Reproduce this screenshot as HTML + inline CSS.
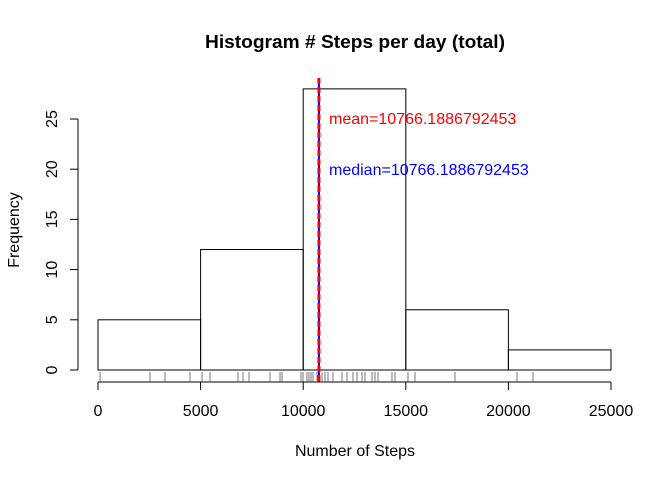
<!DOCTYPE html>
<html><head><meta charset="utf-8"><style>body{margin:0;background:#fff}svg{display:block;font-family:"Liberation Sans",Arial,sans-serif}</style></head>
<body>
<svg id="chart" width="672" height="480" viewBox="0 0 672 480"></svg>
<script>
const binEdges = [0, 5000, 10000, 15000, 20000, 25000];
const frequencies = [5, 12, 28, 6, 2];
const xTicks = [0, 5000, 10000, 15000, 20000, 25000];
const yTicks = [0, 5, 10, 15, 20, 25];
const rugValues = [100,2534,3265,4483,5068,5458,6823,7066,7359,8382,8870,8967,9893,9990,10185,10283,10380,10478,10673,10916,11062,11209,11452,11891,12135,12427,12622,12865,13012,13353,13499,13645,14327,14474,15107,15448,17398,20419,21199];
const meanValue = [10766.1886792453];
const medianValue = [10766.1886792453];

const NS = 'http://www.w3.org/2000/svg';
const svg = document.getElementById('chart');
const X = v => 98 + (v / 25000) * 513;
const Y = v => 370 - (v / 25) * 251;
function mk(tag, attrs, parent) {
  const e = document.createElementNS(NS, tag);
  for (const k in attrs) e.setAttribute(k, attrs[k]);
  (parent || svg).appendChild(e);
  return e;
}
let t = mk('text', {x: 355, y: 48, 'text-anchor': 'middle', 'font-size': 18, 'font-weight': 'bold', textLength: 300, lengthAdjust: 'spacingAndGlyphs'});
t.textContent = 'Histogram # Steps per day (total)';



frequencies.forEach((f, i) => {
  const r = mk('rect', {x: X(binEdges[i]), y: Y(f), width: X(binEdges[i + 1]) - X(binEdges[i]), height: Y(0) - Y(f), fill: 'none', stroke: '#000', 'stroke-width': 1});
  
  
});

const ya = mk('g', {});


mk('line', {x1: 78, x2: 78, y1: Y(0), y2: Y(25), stroke: '#000'}, ya);
yTicks.forEach(v => {
  mk('line', {x1: 70, x2: 78, y1: Y(v), y2: Y(v), stroke: '#000'}, ya);
  const l = mk('text', {x: 0, y: 0, 'font-size': 16, 'text-anchor': 'middle', transform: `translate(57,${Y(v)}) rotate(-90)`}, ya);
  l.textContent = v;
  
  
});

const xa = mk('g', {});


mk('line', {x1: X(0), x2: X(25000), y1: 382, y2: 382, stroke: '#000'}, xa);
xTicks.forEach(v => {
  mk('line', {x1: X(v), x2: X(v), y1: 382, y2: 390, stroke: '#000'}, xa);
  const l = mk('text', {x: X(v), y: 416, 'font-size': 16, 'text-anchor': 'middle'}, xa);
  l.textContent = v;
  
  
});

const rug = mk('g', {});


rugValues.forEach(v => {
  mk('line', {x1: X(v), x2: X(v), y1: 372, y2: 382, stroke: '#555', 'stroke-width': 0.8}, rug);
});

t = mk('text', {x: 355, y: 456, 'text-anchor': 'middle', 'font-size': 16});
t.textContent = 'Number of Steps';


t = mk('text', {x: 0, y: 0, 'text-anchor': 'middle', 'font-size': 16, transform: 'translate(19,230) rotate(-90)'});
t.textContent = 'Frequency';



let ml = mk('line', {x1: X(medianValue[0]), x2: X(medianValue[0]), y1: 78, y2: 382, stroke: '#00f', 'stroke-width': 2});


ml = mk('line', {x1: X(meanValue[0]), x2: X(meanValue[0]), y1: 78, y2: 382, stroke: '#f00', 'stroke-width': 3, 'stroke-dasharray': '6,3'});



t = mk('text', {x: 329, y: 124, 'font-size': 16, fill: '#f00'});
t.textContent = 'mean=' + meanValue[0];


t = mk('text', {x: 329, y: 175, 'font-size': 16, fill: '#00f'});
t.textContent = 'median=' + medianValue[0];


</script>
</body></html>
